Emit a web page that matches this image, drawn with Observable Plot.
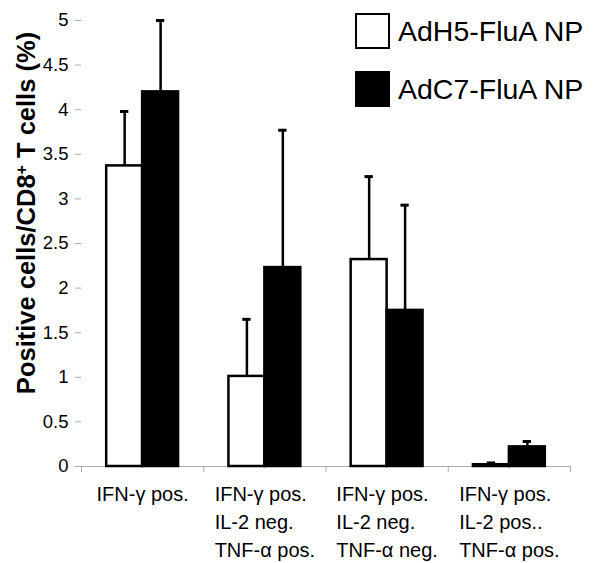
<!DOCTYPE html>
<html>
<head>
<meta charset="utf-8">
<script src="https://cdn.jsdelivr.net/npm/d3@7"></script>
<script src="https://cdn.jsdelivr.net/npm/@observablehq/plot@0.6"></script>
<style>
  html, body { margin: 0; padding: 0; background: #fff; }
  #wrap { position: relative; width: 601px; height: 563px; font-family: "Liberation Sans", Arial, sans-serif; }
  .leg { position: absolute; left: 355px; display: flex; align-items: center; }
  .sw { width: 35px; height: 36px; box-sizing: border-box; border: 2.5px solid #000; }
  .lt { font-size: 28.5px; margin-left: 8px; color: #000; white-space: nowrap; }
</style>
</head>
<body>
<div id="wrap"></div>
<script>
const groups = ["IFN-γ pos.", "IFN-γ pos.\nIL-2 neg.\nTNF-α pos.", "IFN-γ pos.\nIL-2 neg.\nTNF-α neg.", "IFN-γ pos.\nIL-2 pos..\nTNF-α pos."];
const series = ["AdH5-FluA NP", "AdC7-FluA NP"];
const adh5 = [3.37, 1.01, 2.32, 0.02];
const adh5ErrTop = [3.98, 1.65, 3.25, 0.04];
const adc7 = [4.20, 2.23, 1.75, 0.22];
const adc7ErrTop = [5.00, 3.77, 2.93, 0.28];
const yTicks = [0, 0.5, 1, 1.5, 2, 2.5, 3, 3.5, 4, 4.5, 5];

const W = 601, H = 563;
const barW = 0.294;   // bar width in group units
const capW = 0.034;   // half cap width in group units

const rows = [];
groups.forEach((g, i) => {
  rows.push({i, s: 0, v: adh5[i], e: adh5ErrTop[i]});
  rows.push({i, s: 1, v: adc7[i], e: adc7ErrTop[i]});
});
const x1 = d => d.i + 0.5 + (d.s === 0 ? -barW : 0);
const x2 = d => d.i + 0.5 + (d.s === 0 ? 0 : barW);
const xc = d => (x1(d) + x2(d)) / 2;

// measure label block widths so lines are left-aligned but centered under groups
const ctx = document.createElement("canvas").getContext("2d");
ctx.font = "20px 'Liberation Sans'";
const blockW = groups.map(g => Math.max(...g.split("\n").map(l => ctx.measureText(l).width)));

const labelMarks = groups.map((g, i) => Plot.text([{i, g}], {
  x: d => d.i + 0.5, y: 0, text: "g",
  textAnchor: "start", lineAnchor: "top", lineHeight: 1.4,
  dx: -blockW[i] / 2, dy: 15, fontSize: 20, fill: "#000"
}));

const chart = Plot.plot({
  width: W, height: H,
  marginLeft: 81, marginRight: 31, marginTop: 20, marginBottom: 97,
  style: {fontFamily: "Liberation Sans, Arial, sans-serif", background: "#fff", overflow: "visible"},
  x: {type: "linear", domain: [0, groups.length], axis: null},
  y: {domain: [0, 5], axis: null},
  marks: [
    Plot.axisY({ticks: yTicks, tickFormat: d => String(d), tickSize: 6, tickPadding: 7, stroke: "#aaa", fill: "#000", fontSize: 18.5}),
    Plot.ruleY([0], {stroke: "#aaa", strokeWidth: 1}),
    Plot.axisX({ticks: d3.range(groups.length + 1), tickFormat: () => "", tickSize: 6, stroke: "#aaa", anchor: "bottom"}),
    Plot.rect(rows, {x1, x2, y1: 0, y2: "v", fill: d => d.s === 0 ? "#fff" : "#000", stroke: "#000", strokeWidth: 2.5}),
    Plot.ruleX(rows, {x: xc, y1: "v", y2: "e", stroke: "#000", strokeWidth: 2.5}),
    Plot.ruleY(rows, {x1: d => xc(d) - capW, x2: d => xc(d) + capW, y: "e", stroke: "#000", strokeWidth: 3}),
    ...labelMarks
  ]
});

const wrap = document.getElementById("wrap");
wrap.appendChild(chart);

// y-axis title
const svg = d3.select(chart);
const t = svg.append("text")
  .attr("transform", "translate(35,213) rotate(-90)")
  .attr("text-anchor", "middle")
  .attr("font-size", 25.5).attr("font-weight", "bold")
  .attr("font-family", "Liberation Sans, Arial, sans-serif").attr("fill", "#000");
t.append("tspan").text("Positive cells/CD8");
t.append("tspan").attr("baseline-shift", "super").attr("font-size", 16).text("+");
t.append("tspan").text(" T cells (%)");

// legend
const legTops = [13, 71];
series.forEach((s, k) => {
  const row = document.createElement("div");
  row.className = "leg";
  row.style.top = legTops[k] + "px";
  const sw = document.createElement("div");
  sw.className = "sw";
  sw.style.background = k === 0 ? "#fff" : "#000";
  const lt = document.createElement("div");
  lt.className = "lt";
  lt.textContent = s;
  row.appendChild(sw); row.appendChild(lt);
  wrap.appendChild(row);
});
</script>
</body>
</html>
